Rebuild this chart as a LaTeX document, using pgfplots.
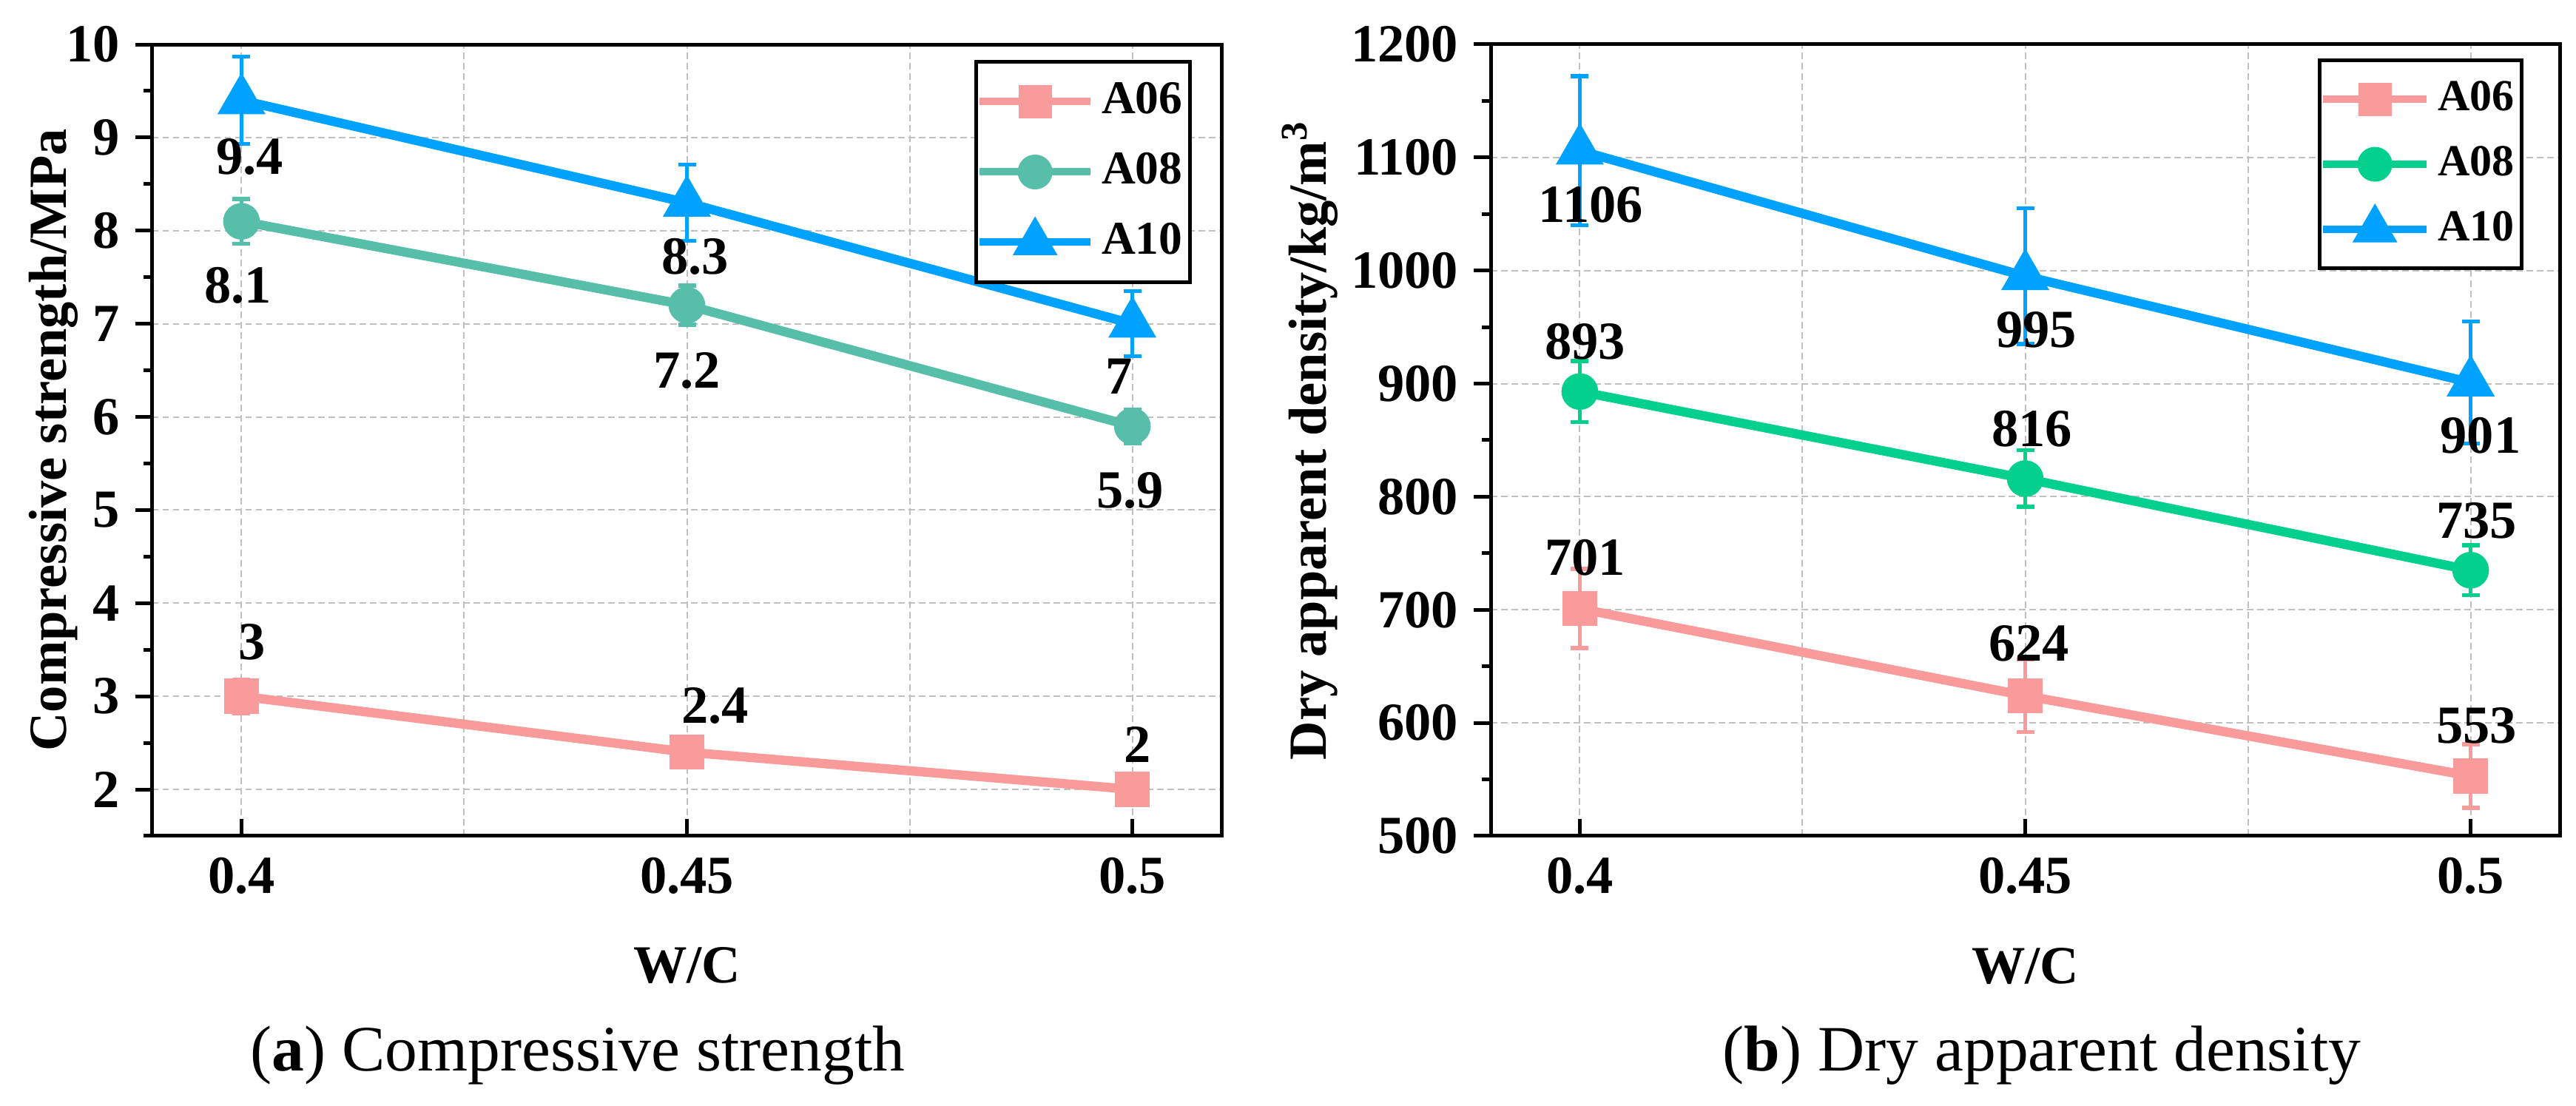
\documentclass[border=0pt]{standalone}
\usepackage{fontspec}
\setmainfont{Liberation Serif}
\usepackage{pgfplots}
\pgfplotsset{compat=1.18}
\definecolor{cA}{RGB}{250,155,155}
\definecolor{cBl}{RGB}{87,191,169}
\definecolor{cBr}{RGB}{2,208,140}
\definecolor{cC}{RGB}{0,162,255}
\definecolor{gridc}{RGB}{192,192,192}
\newcommand{\tickfont}{\fontsize{14.5}{17}\selectfont\bfseries}

\pgfplotsset{
 base/.style={
  scale only axis, width=289pt, height=214pt,
  xmin=0.39, xmax=0.51,
  xtick={0.4,0.45,0.5}, xticklabels={0.4,0.45,0.5},
  minor xtick={0.425,0.475},
  tick align=inside,
  xtick pos=left, ytick pos=left,
  major tick length=4.6pt, minor tick length=2.4pt,
  tick style={black, line width=1pt},
  major y tick style={xshift=-4.6pt},
  minor y tick style={xshift=-2.4pt},
  minor x tick style={draw=none},
  axis line style={line width=1pt},
  xmajorgrids, xminorgrids, ymajorgrids,
  major grid style={gridc, line width=0.4pt, dash pattern=on 1.7pt off 1.1pt},
  minor grid style={gridc, line width=0.4pt, dash pattern=on 1.7pt off 1.1pt},
  tick label style={font=\tickfont},
  xticklabel style={inner sep=0pt, anchor=north, yshift=-5.6pt},
  yticklabel style={inner sep=0pt, anchor=east, xshift=-8.6pt},
  label style={font=\tickfont},
  xlabel={W/C},
  xlabel style={at={(axis description cs:0.5,-0.186)}, anchor=base},
  nodes near coords,
  point meta=explicit symbolic,
  visualization depends on={value \thisrow{dx}\as\dx},
  visualization depends on={value \thisrow{dy}\as\dy},
  nodes near coords style={font=\tickfont, text=black, inner sep=0pt, anchor=center, xshift=\dx pt, yshift=\dy pt},
 },
 ser/.style={color=#1, line width=2.5pt, mark options={solid, draw=none, fill=#1},
  error bars/y dir=both, error bars/y explicit,
  error bars/error mark=-,
  error bars/error bar style={line width=1.1pt, solid, draw=#1},
  error bars/error mark options={solid, rotate=90, draw=#1, line width=1.1pt, mark size=2.4pt}},
}

\begin{document}
\begin{tikzpicture}
\path[use as bounding box] (0,0) rectangle (696.4pt,299pt);

\begin{axis}[base, at={(41.2pt,73pt)}, anchor=south west,
  ymin=1.5, ymax=10, ytick={2,3,4,5,6,7,8,9,10},
  yticklabels={2,3,4,5,6,7,8,9,10},
  minor ytick={1.5,2.5,3.5,4.5,5.5,6.5,7.5,8.5,9.5},
  ylabel={Compressive strength/MPa},
  ylabel style={at={(axis description cs:-0.0803,0.5)}, anchor=base},
  legend image code/.code={\draw[mark repeat=2,mark phase=2,#1, line width=2pt] plot coordinates {(0pt,0pt) (15pt,0pt) (30pt,0pt)};},
  legend style={at={(0.9723,0.9804)}, anchor=north east, draw=black, line width=1pt, fill=white,
    inner xsep=0pt, inner ysep=3.5pt, row sep=4.4pt,
    font=\fontsize{12.7}{15}\selectfont\bfseries,
    nodes={inner sep=2pt, text height=8.6pt, text depth=2pt}},
]
\addplot[ser=cA, mark=square*, mark size=3.5pt] table[x=x,y=y,y error=e,meta=lab]{
x y e lab dx dy
0.40 3.0 0.18 3 2.8 14.6
0.45 2.4 0.12 2.4 7.6 12.6
0.50 2.0 0.07 2 1.5 12.2
};
\addplot[ser=cBl, mark=*, mark size=3.7pt] table[x=x,y=y,y error=e,meta=lab]{
x y e lab dx dy
0.40 8.1 0.24 8.1 -1 -17.3
0.45 7.2 0.21 7.2 0 -17.7
0.50 5.9 0.18 5.9 -0.6 -17.3
};
\addplot[ser=cC, mark=triangle*, mark size=5pt] table[x=x,y=y,y error=e,meta=lab]{
x y e lab dx dy
0.40 9.4 0.47 9.4 2.2 -15.2
0.45 8.3 0.41 8.3 2.2 -14.5
0.50 7.0 0.35 7 -3.5 -14.3
};
\legend{A06,A08,A10}
\end{axis}

\begin{axis}[base, at={(403pt,73pt)}, anchor=south west,
  ymin=500, ymax=1200, ytick={500,600,700,800,900,1000,1100,1200},
  yticklabels={500,600,700,800,900,1000,1100,1200},
  minor ytick={550,650,750,850,950,1050,1150},
  ylabel={Dry apparent density/kg/m\textsuperscript{3}},
  ylabel style={at={(axis description cs:-0.154,0.5)}, anchor=base},
  legend image code/.code={\draw[mark repeat=2,mark phase=2,#1, line width=2pt] plot coordinates {(0pt,0pt) (14pt,0pt) (28pt,0pt)};},
  legend style={at={(0.9661,0.9822)}, anchor=north east, draw=black, line width=1pt, fill=white,
    inner xsep=0pt, inner ysep=3.5pt, row sep=3.6pt,
    font=\fontsize{12}{14}\selectfont\bfseries,
    nodes={inner sep=2pt, text height=8pt, text depth=2pt}},
]
\addplot[ser=cA, mark=square*, mark size=3.5pt] table[x=x,y=y,y error=e,meta=lab]{
x y e lab dx dy
0.40 701 35 701 1.4 13.7
0.45 624 32 624 1 14.1
0.50 553 28 553 1.6 13.7
};
\addplot[ser=cBr, mark=*, mark size=3.7pt] table[x=x,y=y,y error=e,meta=lab]{
x y e lab dx dy
0.40 893 27 893 1.4 13.5
0.45 816 25 816 1.8 13.5
0.50 735 22 735 1.6 13.3
};
\addplot[ser=cC, mark=triangle*, mark size=5pt] table[x=x,y=y,y error=e,meta=lab]{
x y e lab dx dy
0.40 1106 66 1106 3 -14.7
0.45 995 60 995 3 -14.5
0.50 901 54 901 2.7 -14.3
};
\legend{A06,A08,A10}
\end{axis}

\node[anchor=base, font=\fontsize{17.5}{20}\selectfont] at (156.2pt,9.4pt) {(\textbf{a}) Compressive strength};
\node[anchor=base, font=\fontsize{17.5}{20}\selectfont] at (552pt,9.4pt) {(\textbf{b}) Dry apparent density};
\end{tikzpicture}
\end{document}
